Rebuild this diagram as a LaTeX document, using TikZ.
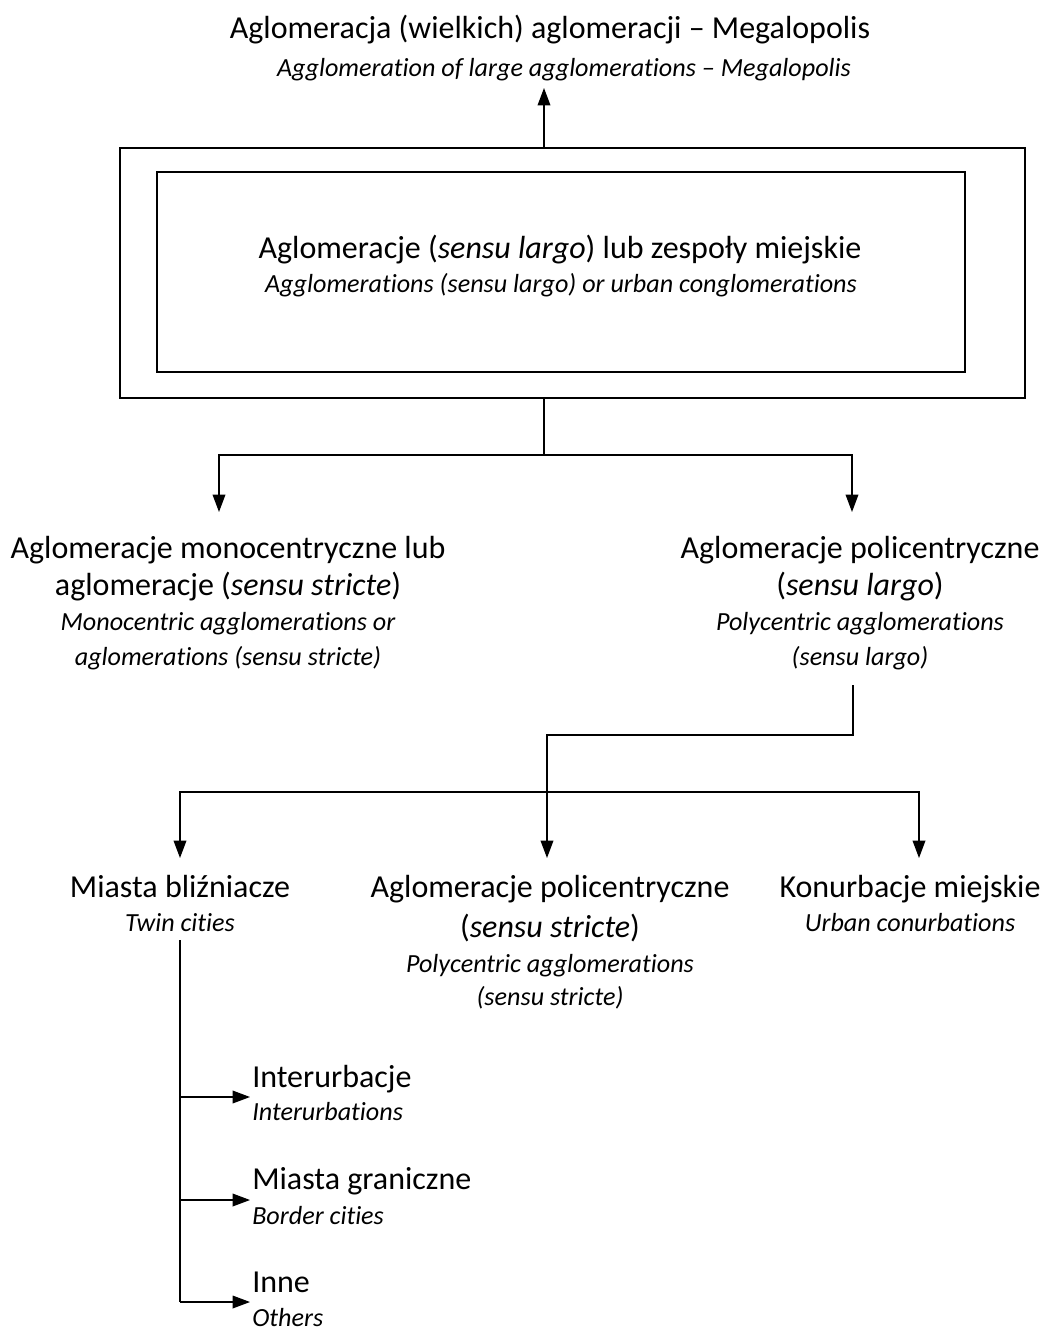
\documentclass[tikz,border=0pt]{standalone}
\usepackage{fontspec}
\setmainfont[Ligatures=NoCommon]{Carlito}
\usetikzlibrary{arrows.meta}
\newcommand\mainfs{\fontsize{24}{28}\selectfont}
\newcommand\itfs{\fontsize{19.6}{23}\selectfont\itshape}
\begin{document}
\begin{tikzpicture}[x=0.75pt,y=-0.75pt,
  txt/.style={anchor=base,inner sep=0pt,font=\mainfs},
  itx/.style={anchor=base,inner sep=0pt,font=\itfs},
  txtw/.style={anchor=base west,inner sep=0pt,font=\mainfs},
  itxw/.style={anchor=base west,inner sep=0pt,font=\itfs},
  boxline/.style={draw,line width=1.2pt},
  conn/.style={line width=1pt},
  arr/.style={conn,-{Triangle[length=13pt,width=9.5pt]}}]
\useasboundingbox (0,0) rectangle (1044,1331);
% top
\node[txt] (top1) at (550,39) {Aglomeracja (wielkich) aglomeracji – Megalopolis};
\node[itx] (top2) at (564,77) {Agglomeration of large agglomerations – Megalopolis};
% boxes
\node[boxline,minimum width=905*0.75pt,minimum height=250*0.75pt,inner sep=0pt] (outer) at (572.5,273) {};
\node[boxline,minimum width=808*0.75pt,minimum height=200*0.75pt,inner sep=0pt] (inner) at (561,272) {};
\node[txt] (in1) at (560,258) {Aglomeracje (\textit{sensu largo}) lub zespoły miejskie};
\node[itx] (in2) at (561,292) {Agglomerations (sensu largo) or urban conglomerations};
% level 2 left
\node[txt] (l1) at (228,558) {Aglomeracje monocentryczne lub};
\node[txt] (l2) at (228,595) {aglomeracje (\textit{sensu stricte})};
\node[itx] (l3) at (228,630) {Monocentric agglomerations or};
\node[itx] (l4) at (228,665) {aglomerations (sensu stricte)};
% level 2 right
\node[txt] (r1) at (860,558) {Aglomeracje policentryczne};
\node[txt] (r2) at (860,595) {(\textit{sensu largo})};
\node[itx] (r3) at (860,630) {Polycentric agglomerations};
\node[itx] (r4) at (860,665) {(sensu largo)};
% level 3
\node[txt] (t1) at (180,897) {Miasta bliźniacze};
\node[itx] (t2) at (180,931) {Twin cities};
\node[txt] (m1) at (550,897) {Aglomeracje policentryczne};
\node[txt] (m2) at (550,937) {(\textit{sensu stricte})};
\node[itx] (m3) at (550,972) {Polycentric agglomerations};
\node[itx] (m4) at (550,1005) {(sensu stricte)};
\node[txt] (k1) at (910,897) {Konurbacje miejskie};
\node[itx] (k2) at (910,931) {Urban conurbations};
% level 4
\node[txtw] (i1) at (252,1087) {Interurbacje};
\node[itxw] (i2) at (252,1120) {Interurbations};
\node[txtw] (g1) at (252,1189) {Miasta graniczne};
\node[itxw] (g2) at (252,1224) {Border cities};
\node[txtw] (n1) at (252,1292) {Inne};
\node[itxw] (n2) at (252,1326) {Others};
% coordinates
\coordinate (topTip) at (544,88);
\coordinate (outB) at (544,398);
\coordinate (outT) at (544,148);
\coordinate (j1) at (544,455);
\coordinate (lTip) at (219,512);
\coordinate (rTip) at (852,512);
\coordinate (rB) at (853,685);
\coordinate (j2) at (853,735);
\coordinate (mTip) at (547,858);
\coordinate (tTip) at (180,858);
\coordinate (kTip) at (919,858);
\coordinate (tB) at (180,940);
\coordinate (iTip) at (250,1097);
\coordinate (gTip) at (250,1200);
\coordinate (nTip) at (250,1302);
% connectors
\draw[arr] (outT) -- (topTip);
\draw[conn] (outB) -- (j1);
\draw[arr] (j1) -| (lTip);
\draw[arr] (j1) -| (rTip);
\draw[arr] (rB) -- (j2) -| (mTip);
\draw[arr] (mTip |- 0,792) -| (tTip);
\draw[arr] (mTip |- 0,792) -| (kTip);
\draw[conn] (tB) -- (tB |- nTip);
\draw[arr] (tB |- iTip) -- (iTip);
\draw[arr] (tB |- gTip) -- (gTip);
\draw[arr] (tB |- nTip) -- (nTip);
\end{tikzpicture}
\end{document}
